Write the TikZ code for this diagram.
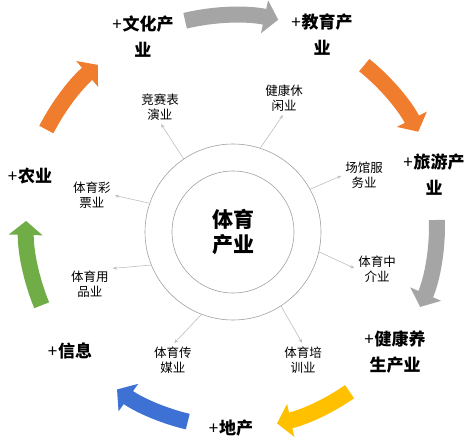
\documentclass[tikz,border=0pt]{standalone}
\usepackage{fontspec}
\newfontfamily\cjk{Noto Sans CJK SC}
\usetikzlibrary{positioning,calc,arrows.meta}

\definecolor{ringgray}{RGB}{165,165,165}
\definecolor{ringorange}{RGB}{240,125,45}
\definecolor{ringyellow}{RGB}{255,192,0}
\definecolor{ringblue}{RGB}{61,114,212}
\definecolor{ringgreen}{RGB}{112,173,71}
\definecolor{spokegray}{RGB}{190,190,190}
\definecolor{circgray}{RGB}{160,160,160}

\begin{document}
\begin{tikzpicture}[x=1pt, y=1pt]

        % Styles of the ring arrows, the spokes and the labels
        \tikzset{
            ringarrow/.style={line width=16pt, -{Triangle[length=14pt, width=33pt]}},
            spoke/.style={spokegray, line width=0.6pt,
                -{Stealth[length=4pt, width=3.5pt]}, shorten >=2pt},
            sector/.style={font=\cjk\fontsize{12.5}{15}\selectfont,
                align=center, inner sep=2pt},
            partner/.style={font=\cjk\bfseries\fontsize{17}{26}\selectfont,
                align=center, inner sep=0pt},
        }

        \useasboundingbox (-233, -213) rectangle (235, 232);

        % Two circles round the title
        \node (core) [circle, draw=circgray, line width=0.6pt,
            minimum size=176pt, inner sep=0pt] {};
        \node (inner) [circle, draw=circgray, line width=0.6pt,
            minimum size=122pt, inner sep=0pt] {};
        \node (title) [font=\cjk\bfseries\fontsize{21}{25}\selectfont,
            align=center] {体育\\产业};

        % Sectors of the industry
        \node (jingsai) [sector] at (-73, 125) {竞赛表\\演业};
        \node (xiuxian) [sector] at (51, 134) {健康休\\闲业};
        \node (changguan) [sector] at (131, 57) {场馆服\\务业};
        \node (zhongjie) [sector] at (144, -37) {体育中\\介业};
        \node (peixun) [sector] at (70, -128) {体育培\\训业};
        \node (chuanmei) [sector] at (-60, -128) {体育传\\媒业};
        \node (yongpin) [sector] at (-143, -52) {体育用\\品业};
        \node (caipiao) [sector] at (-141, 37) {体育彩\\票业};

        \draw[spoke] (core.124) -- (jingsai.south);
        \draw[spoke] (core.72) -- (xiuxian.south);
        \draw[spoke] (core.29) -- (changguan.west);
        \draw[spoke] (core.-13) -- (zhongjie.west);
        \draw[spoke] (core.-57) -- (peixun.north);
        \draw[spoke] (core.-111) -- (chuanmei.north);
        \draw[spoke] (core.-158) -- (yongpin.north east);
        \draw[spoke] (core.161) -- (caipiao.east);

        % Industries joined to it, on the outer ring
        \node (wenhua) [partner] at (-90, 195) {{\mdseries+}\kern1pt文化产\\业};
        \node (jiaoyu) [partner] at (89, 197) {{\mdseries+}\kern1pt教育产\\业};
        \node (lvyou) [partner] at (201, 57) {{\mdseries+}\kern1pt旅游产\\业};
        \node (jiankang) [partner] at (162, -120) {{\mdseries+}\kern1pt健康养\\生产业};
        \node (dichan) [partner] at (-2, -196) {{\mdseries+}\kern1pt地产};
        \node (xinxi) [partner] at (-163, -119) {{\mdseries+}\kern1pt信息};
        \node (nongye) [partner] at (-203, 56) {{\mdseries+}\kern1pt农业};

        % Ring of arrows, clockwise from the top
        \coordinate (ring) at (1, 6);
        \draw[ringarrow, ringgray] ($(ring)+(103.4:211)$)
            arc[start angle=103.4, end angle=77.9, radius=211];
        \draw[ringarrow, ringorange] ($(ring)+(51:207)$)
            arc[start angle=51, end angle=27.1, radius=207];
        \draw[ringarrow, ringgray] ($(ring)+(1.7:203)$)
            arc[start angle=1.7, end angle=-23.5, radius=203];
        \draw[ringarrow, ringyellow] ($(ring)+(-55.1:202)$)
            arc[start angle=-55.1, end angle=-77.7, radius=202];
        \draw[ringarrow, ringblue] ($(ring)+(-103.3:201)$)
            arc[start angle=-103.3, end angle=-125.6, radius=201];
        \draw[ringarrow, ringgreen] ($(ring)+(202.4:208)$)
            arc[start angle=202.4, end angle=178.6, radius=208];
        \draw[ringarrow, ringorange] ($(ring)+(152.8:211)$)
            arc[start angle=152.8, end angle=130.2, radius=211];
\end{tikzpicture}
\end{document}
